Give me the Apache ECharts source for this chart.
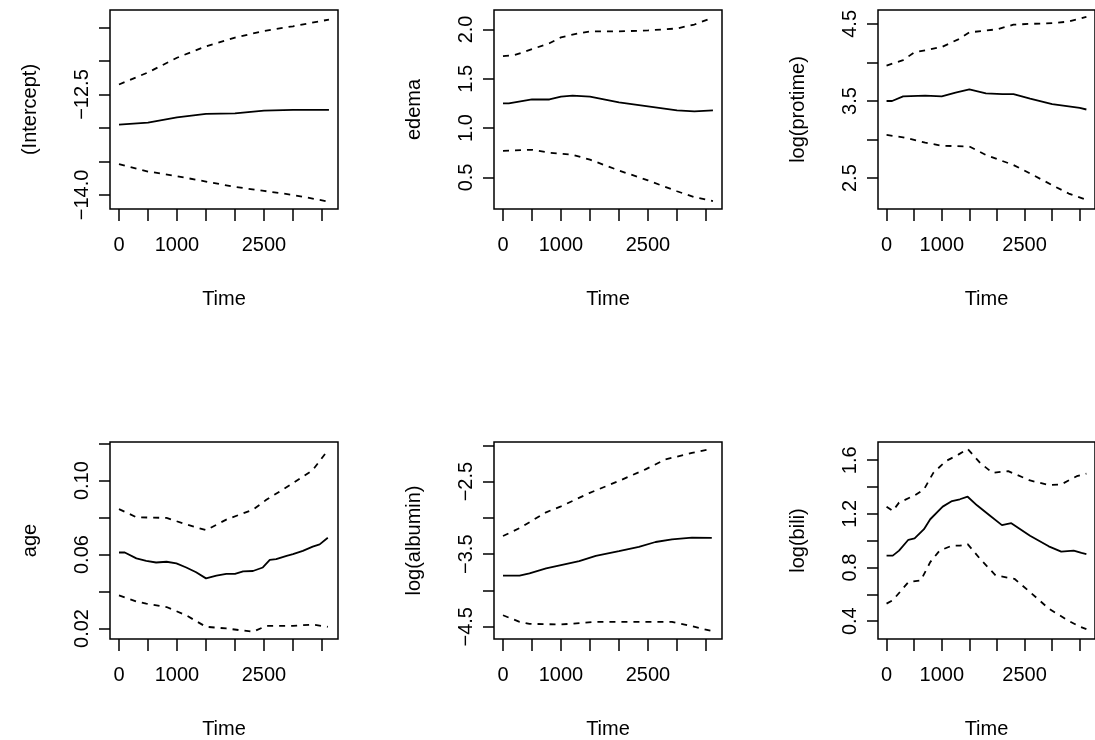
<!DOCTYPE html>
<html><head><meta charset="utf-8">
<script src="https://cdn.jsdelivr.net/npm/echarts@6/dist/echarts.min.js"></script>
<style>html,body{margin:0;padding:0;background:#fff}#c{width:1095px;height:740px}</style>
</head><body><div id="c"></div>
<script>
// Panel names
const panelNames = ["(Intercept)", "edema", "log(protime)", "age", "log(albumin)", "log(bili)"];
const xTicks = [0, 500, 1000, 1500, 2000, 2500, 3000, 3500];
const xLabels = [0, 1000, 2500];
// [time, value] pairs
const p1Est = [[0,-12.95],[500,-12.92],[1000,-12.84],[1500,-12.79],[2000,-12.78],[2500,-12.74],[3000,-12.73],[3620,-12.73]];
const p1Up  = [[0,-12.35],[500,-12.17],[1000,-11.95],[1500,-11.78],[2000,-11.65],[2500,-11.55],[3000,-11.48],[3620,-11.38]];
const p1Lo  = [[0,-13.54],[500,-13.65],[1000,-13.72],[1500,-13.80],[2000,-13.88],[2500,-13.94],[3000,-14.0],[3620,-14.1]];
const p2Est = [[0,1.25],[100,1.25],[500,1.29],[800,1.29],[1000,1.32],[1200,1.33],[1500,1.32],[2000,1.26],[2500,1.22],[3000,1.18],[3300,1.17],[3620,1.18]];
const p2Up  = [[0,1.73],[200,1.74],[500,1.80],[800,1.86],[1000,1.92],[1300,1.96],[1500,1.98],[2000,1.98],[2500,1.99],[3000,2.01],[3300,2.05],[3620,2.12]];
const p2Lo  = [[0,0.77],[500,0.78],[800,0.75],[1200,0.73],[1500,0.68],[2000,0.57],[2500,0.47],[3000,0.36],[3300,0.30],[3620,0.26]];
const p3Est = [[0,3.5],[100,3.5],[300,3.56],[700,3.57],[1000,3.56],[1250,3.61],[1500,3.65],[1800,3.60],[2100,3.59],[2300,3.59],[2600,3.53],[3000,3.46],[3300,3.43],[3500,3.41],[3620,3.39]];
const p3Up  = [[0,3.96],[300,4.03],[500,4.13],[1000,4.20],[1300,4.30],[1500,4.39],[2000,4.43],[2300,4.49],[2600,4.5],[3000,4.51],[3300,4.53],[3620,4.59]];
const p3Lo  = [[0,3.06],[300,3.03],[700,2.96],[1000,2.92],[1500,2.91],[1800,2.80],[2300,2.67],[2600,2.56],[3000,2.41],[3300,2.30],[3620,2.22]];
const p4Est = [[0,0.0611],[100,0.0611],[300,0.0579],[470,0.0566],[640,0.0557],[820,0.0561],[990,0.0552],[1160,0.0530],[1330,0.0504],[1500,0.0471],[1680,0.0486],[1850,0.0495],[2000,0.0495],[2140,0.0509],[2310,0.0511],[2480,0.0530],[2600,0.0571],[2710,0.0575],[2890,0.0593],[3000,0.0602],[3170,0.0620],[3340,0.0643],[3460,0.0655],[3600,0.0691]];
const p4Up  = [[0,0.0846],[300,0.0802],[820,0.0798],[1160,0.0763],[1500,0.0732],[1850,0.0789],[2310,0.0843],[2540,0.0896],[3000,0.0986],[3340,0.1057],[3600,0.1164]];
const p4Lo  = [[0,0.0379],[300,0.0346],[470,0.0334],[820,0.0316],[1160,0.0271],[1500,0.0209],[1850,0.0200],[2310,0.0182],[2540,0.0214],[3000,0.0214],[3340,0.0221],[3600,0.0209]];
const p5Est = [[0,-3.795],[286,-3.795],[457,-3.764],[743,-3.695],[1000,-3.65],[1314,-3.595],[1600,-3.523],[2000,-3.459],[2343,-3.40],[2630,-3.332],[2914,-3.295],[3257,-3.273],[3600,-3.275]];
const p5Up  = [[0,-3.25],[286,-3.141],[743,-2.923],[1000,-2.841],[1486,-2.659],[2000,-2.491],[2457,-2.332],[2800,-2.195],[3257,-2.105],[3600,-2.05]];
const p5Lo  = [[0,-4.341],[286,-4.432],[457,-4.459],[1000,-4.468],[1600,-4.432],[2457,-4.432],[2914,-4.432],[3257,-4.491],[3600,-4.559]];
const p6Est = [[0,0.889],[113,0.889],[226,0.926],[395,1.007],[508,1.017],[678,1.086],[791,1.16],[1017,1.254],[1186,1.296],[1328,1.309],[1469,1.328],[1638,1.264],[1864,1.19],[2090,1.116],[2260,1.131],[2599,1.037],[2938,0.958],[3164,0.919],[3390,0.926],[3531,0.909],[3620,0.90]];
const p6Up  = [[0,1.254],[113,1.222],[226,1.284],[508,1.338],[678,1.383],[847,1.506],[1073,1.593],[1299,1.642],[1469,1.684],[1695,1.58],[1921,1.506],[2203,1.519],[2599,1.449],[2938,1.415],[3164,1.42],[3446,1.481],[3620,1.50]];
const p6Lo  = [[0,0.531],[113,0.556],[395,0.691],[621,0.704],[791,0.84],[960,0.926],[1186,0.963],[1328,0.963],[1469,0.975],[1695,0.864],[1977,0.741],[2316,0.716],[2599,0.617],[2938,0.494],[3277,0.407],[3503,0.358],[3620,0.34]];
// y axis ranges, ticks, labels
const yMin = [-14.21, 0.18, 2.10, 0.0143, -4.668, 0.267];
const yMax = [-11.237, 2.197, 4.68, 0.1209, -1.955, 1.736];
const yTicks = [[-11.5,-12,-12.5,-13,-13.5,-14],[0.5,1.0,1.5,2.0],[2.5,3.0,3.5,4.0,4.5],[0.02,0.04,0.06,0.08,0.10,0.12],[-2,-2.5,-3,-3.5,-4,-4.5],[0.4,0.6,0.8,1.0,1.2,1.4,1.6]];
const yLabels = [[-12.5,-14.0],[0.5,1.0,1.5,2.0],[2.5,3.5,4.5],[0.02,0.06,0.10],[-2.5,-3.5,-4.5],[0.4,0.8,1.2,1.6]];
const yDigits = [1,1,1,2,1,1];
const est = [p1Est,p2Est,p3Est,p4Est,p5Est,p6Est];
const up = [p1Up,p2Up,p3Up,p4Up,p5Up,p6Up];
const lo = [p1Lo,p2Lo,p3Lo,p4Lo,p5Lo,p6Lo];

const lefts = [110, 494, 878], tops = [10, 442];
const font = 'Liberation Sans, Arial, sans-serif';
const fs = 20;
const grid = [], xAxis = [], yAxis = [], series = [];
for (let i = 0; i < 6; i++) {
  grid.push({left: lefts[i%3], top: tops[Math.floor(i/3)], width: 228, height: 199, show: true, borderColor: '#000', borderWidth: 1.5, backgroundColor: 'transparent'});
  xAxis.push({type: 'value', gridIndex: i, position: 'bottom', min: -155, max: 3776, name: 'Time', nameLocation: 'middle', nameGap: 80,
    nameTextStyle: {fontFamily: font, fontSize: fs, color: '#000'},
    axisLine: {show: false, onZero: false}, splitLine: {show: false},
    axisTick: {show: true, length: 12, inside: false, customValues: xTicks, lineStyle: {color: '#000', width: 1.5}},
    axisLabel: {customValues: xLabels, fontFamily: font, fontSize: fs, color: '#000', margin: 26, formatter: (v) => String(v)}});
  yAxis.push({type: 'value', gridIndex: i, position: 'left', min: yMin[i], max: yMax[i], name: panelNames[i], nameLocation: 'middle', nameGap: 70,
    nameTextStyle: {fontFamily: font, fontSize: fs, color: '#000'},
    axisLine: {show: false, onZero: false}, splitLine: {show: false},
    axisTick: {show: true, inside: false, length: 11, customValues: yTicks[i], lineStyle: {color: '#000', width: 1.5}},
    axisLabel: {customValues: yLabels[i], rotate: 90, fontFamily: font, fontSize: fs, color: '#000', margin: 18,
      formatter: (v) => { const s = Number(v).toFixed(yDigits[i]); return s.replace('-', '\u2212'); }}});
  const base = {type: 'line', xAxisIndex: i, yAxisIndex: i, showSymbol: false, symbol: 'none', silent: true, clip: true};
  series.push(Object.assign({}, base, {data: est[i], lineStyle: {color: '#000', width: 1.8}}));
  series.push(Object.assign({}, base, {data: up[i], lineStyle: {color: '#000', width: 1.8, type: [6, 6]}}));
  series.push(Object.assign({}, base, {data: lo[i], lineStyle: {color: '#000', width: 1.8, type: [6, 6]}}));
}
const chart = echarts.init(document.getElementById('c'));
chart.setOption({animation: false, backgroundColor: '#fff', grid, xAxis, yAxis, series});
</script></body></html>
